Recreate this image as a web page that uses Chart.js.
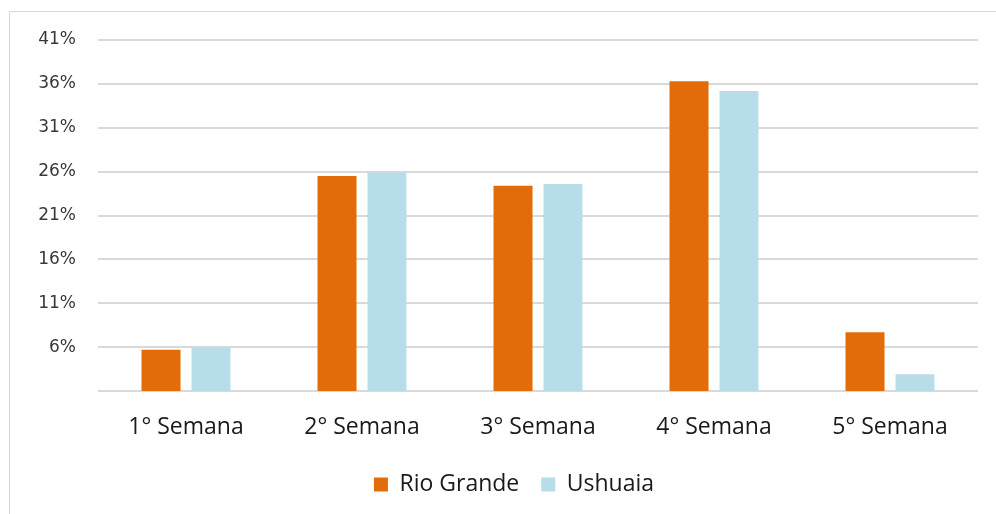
<!DOCTYPE html>
<html>
<head>
<meta charset="utf-8">
<script src="https://cdn.jsdelivr.net/npm/chart.js@4"></script>
<style>
  html, body { margin: 0; padding: 0; background: #fff; }
  #wrap {
    position: absolute; left: 0; top: 0; width: 996px; height: 514px;
  }
  #frame {
    position: absolute; left: 9px; top: 11px; right: -2px; bottom: -2px;
    border-left: 1px solid #d9d9d9; border-top: 1px solid #d9d9d9;
  }
</style>
</head>
<body>
<div id="wrap">
  <div id="frame"></div>
  <canvas id="myChart" width="996" height="514"></canvas>
</div>
<script>
// semanas del mes
const labels = ['1° Semana', '2° Semana', '3° Semana', '4° Semana', '5° Semana'];
const rioGrande = [5.7, 25.5, 24.4, 36.3, 7.7];
const ushuaia = [6.0, 25.9, 24.6, 35.2, 2.9];
const yTicks = [1, 6, 11, 16, 21, 26, 31, 36, 41];

const datasets = [
  {
    label: 'Rio Grande',
    data: rioGrande,
    backgroundColor: '#E36C0A',
    borderWidth: 0,
    categoryPercentage: 0.568,
    barPercentage: 0.78
  },
  {
    label: 'Ushuaia',
    data: ushuaia,
    backgroundColor: '#B7DEE8',
    borderWidth: 0,
    categoryPercentage: 0.568,
    barPercentage: 0.78
  }
];

// mover la leyenda un poco a la derecha, como en el original
const shiftLegend = {
  id: 'shiftLegend',
  afterLayout(chart) {
    chart.legend.left += 25;
    chart.legend.right += 25;
  }
};

new Chart(document.getElementById('myChart'), {
  type: 'bar',
  data: { labels, datasets },
  plugins: [shiftLegend],
  options: {
    responsive: false,
    animation: false,
    layout: { padding: { top: 40, right: 18, bottom: 8, left: 0 } },
    plugins: {
      tooltip: { enabled: false },
      legend: {
        position: 'bottom',
        labels: {
          boxWidth: 14,
          boxHeight: 14,
          padding: 22,
          color: '#1a1a1a',
          font: { family: 'Open Sans', size: 23 }
        }
      }
    },
    scales: {
      x: {
        grid: { display: false, drawTicks: false },
        border: { display: false },
        ticks: {
          padding: 23,
          color: '#1a1a1a',
          maxRotation: 0,
          font: { family: 'Open Sans', size: 23 }
        },
        afterFit: (scale) => { scale.height = 60; }
      },
      y: {
        min: 1,
        max: 41,
        afterBuildTicks: (scale) => { scale.ticks = yTicks.map((v) => ({ value: v })); },
        grid: { color: '#d9d9d9', lineWidth: 2, drawTicks: false },
        border: { display: false },
        ticks: {
          padding: 22,
          color: '#383838',
          font: { family: 'DejaVu Sans', size: 17 },
          callback: (v) => (v === 1 ? '' : v + '%')
        },
        afterFit: (scale) => { scale.width = 98; }
      }
    }
  }
});
</script>
</body>
</html>
